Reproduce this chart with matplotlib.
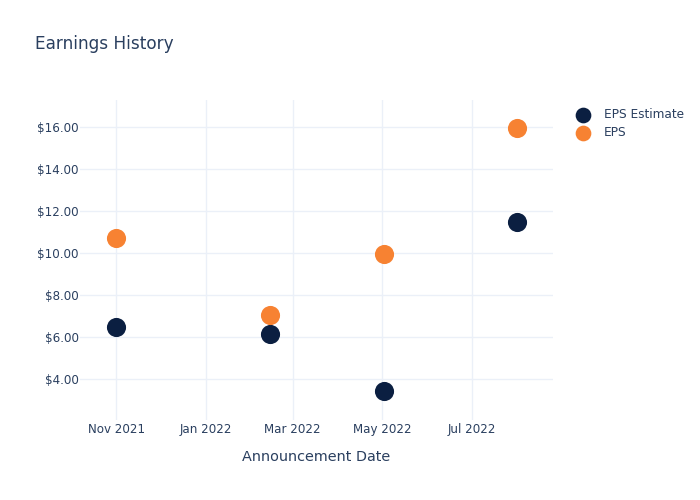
import datetime as dt

import matplotlib.dates as mdates
from matplotlib import pyplot as plt
from matplotlib.ticker import FuncFormatter

# data
announce_dates = [
    dt.datetime(2021, 11, 1),
    dt.datetime(2022, 2, 14),
    dt.datetime(2022, 5, 2),
    dt.datetime(2022, 8, 1),
]
eps_estimate = [6.48, 6.13, 3.42, 11.47]
eps_actual = [10.72, 7.05, 9.96, 15.94]

text_color = "#2a3f5f"
grid_color = "#ebf0f8"

plt.rcParams["font.family"] = ["DejaVu Sans"]

fig = plt.figure(figsize=(7, 5), dpi=100)
ax = fig.add_axes([0.1143, 0.16, 0.6757, 0.64])

ax.scatter(announce_dates, eps_estimate, s=190, color="#0b1f41", label="EPS Estimate", zorder=3, linewidths=0)
ax.scatter(announce_dates, eps_actual, s=190, color="#f78232", label="EPS", zorder=3, linewidths=0)

ax.set_xlim(dt.datetime(2021, 10, 7, 8), dt.datetime(2022, 8, 25, 8))
ax.set_ylim(2.05, 17.29)

ax.xaxis.set_major_locator(mdates.MonthLocator(bymonth=[1, 3, 5, 7, 11]))
ax.xaxis.set_major_formatter(mdates.DateFormatter("%b %Y"))
ax.set_yticks([4, 6, 8, 10, 12, 14, 16])
ax.yaxis.set_major_formatter(FuncFormatter(lambda v, p: f"${v:.2f}"))

ax.grid(True, color=grid_color, linewidth=1)
ax.set_axisbelow(True)
for s in ax.spines.values():
    s.set_visible(False)
ax.tick_params(length=0, colors=text_color, labelsize=8.6)
ax.tick_params(axis="x", pad=2)
ax.tick_params(axis="y", pad=1)

ax.set_xlabel("Announcement Date", color=text_color, fontsize=10.4, labelpad=10)
fig.text(0.05, 0.912, "Earnings History", color=text_color, fontsize=12.2, va="center")

leg = ax.legend(loc="upper left", bbox_to_anchor=(1.022, 1.0), frameon=False,
                fontsize=8.7, labelcolor=text_color, handletextpad=0.7,
                borderaxespad=0.25, labelspacing=0.45, markerscale=0.82)

fig.savefig("out.png", dpi=100)
plt.close()
